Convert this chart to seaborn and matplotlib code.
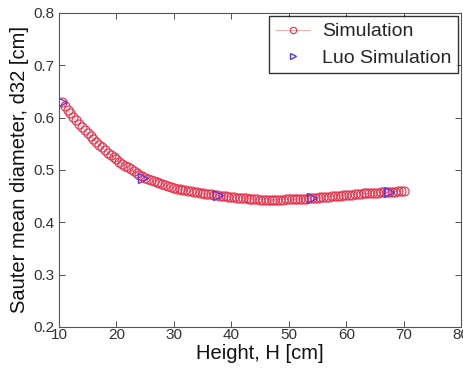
import numpy as np
import pandas as pd
import matplotlib
matplotlib.use("Agg")
import matplotlib.pyplot as plt
import seaborn as sns

# Simulated Sauter mean diameter along the column height
height_sim = [10.5, 11.0, 11.5, 12.0, 12.5, 13.0, 13.5, 14.0, 14.5, 15.0,
              15.5, 16.0, 16.5, 17.0, 17.5, 18.0, 18.5, 19.0, 19.5, 20.0,
              20.5, 21.0, 21.5, 22.0, 22.5, 23.0, 23.5, 24.0, 24.5, 25.0,
              25.5, 26.0, 26.5, 27.0, 27.5, 28.0, 28.5, 29.0, 29.5, 30.0,
              30.5, 31.0, 31.5, 32.0, 32.5, 33.0, 33.5, 34.0, 34.5, 35.0,
              35.5, 36.0, 36.5, 37.0, 37.5, 38.0, 38.5, 39.0, 39.5, 40.0,
              40.5, 41.0, 41.5, 42.0, 42.5, 43.0, 43.5, 44.0, 44.5, 45.0,
              45.5, 46.0, 46.5, 47.0, 47.5, 48.0, 48.5, 49.0, 49.5, 50.0,
              50.5, 51.0, 51.5, 52.0, 52.5, 53.0, 53.5, 54.0, 54.5, 55.0,
              55.5, 56.0, 56.5, 57.0, 57.5, 58.0, 58.5, 59.0, 59.5, 60.0,
              60.5, 61.0, 61.5, 62.0, 62.5, 63.0, 63.5, 64.0, 64.5, 65.0,
              65.5, 66.0, 66.5, 67.0, 67.5, 68.0, 68.5, 69.0, 69.5, 70.0]
d32_sim = [0.630, 0.622, 0.615, 0.608, 0.601, 0.595, 0.588, 0.582, 0.576, 0.570,
           0.564, 0.559, 0.553, 0.548, 0.543, 0.538, 0.533, 0.529, 0.524, 0.520,
           0.516, 0.512, 0.508, 0.505, 0.501, 0.498, 0.494, 0.491, 0.488, 0.485,
           0.483, 0.481, 0.479, 0.477, 0.475, 0.473, 0.471, 0.469, 0.467, 0.466,
           0.464, 0.463, 0.462, 0.461, 0.460, 0.459, 0.458, 0.457, 0.456, 0.455,
           0.4545, 0.454, 0.4535, 0.453, 0.452, 0.451, 0.4505, 0.450, 0.449, 0.448,
           0.4475, 0.447, 0.4465, 0.446, 0.4455, 0.445, 0.4445, 0.444, 0.4435, 0.443,
           0.443, 0.443, 0.443, 0.443, 0.443, 0.443, 0.443, 0.443, 0.4435, 0.444,
           0.444, 0.444, 0.4445, 0.445, 0.445, 0.445, 0.4455, 0.446, 0.4465, 0.447,
           0.4475, 0.448, 0.4485, 0.449, 0.4495, 0.450, 0.4505, 0.451, 0.4515, 0.452,
           0.4525, 0.453, 0.4535, 0.454, 0.4545, 0.455, 0.455, 0.455, 0.4555, 0.456,
           0.4565, 0.457, 0.457, 0.457, 0.4575, 0.458, 0.4585, 0.459, 0.459, 0.459]

# Reference results (Luo simulation)
height_luo = [10.5, 24.6, 37.7, 54.1, 67.5]
d32_luo = [0.630, 0.485, 0.452, 0.446, 0.458]

x_ticks = [10, 20, 30, 40, 50, 60, 70, 80]
y_ticks = [0.2, 0.3, 0.4, 0.5, 0.6, 0.7, 0.8]

sim = pd.DataFrame({"H": height_sim, "d32": d32_sim})
luo = pd.DataFrame({"H": height_luo, "d32": d32_luo})

sns.set_theme(style="white")
plt.rcParams["font.family"] = ["Liberation Sans", "DejaVu Sans"]

fig = plt.figure(figsize=(4.64, 3.71), dpi=100)
ax = fig.add_axes([0.127, 0.119, 0.867, 0.846])

sns.lineplot(data=sim, x="H", y="d32", ax=ax, color="#f4a0a0", linewidth=0.6,
             marker="o", markersize=6.5, markerfacecolor="none",
             markeredgecolor="#e8304a", markeredgewidth=0.8,
             label="Simulation", sort=False)
sns.lineplot(data=luo, x="H", y="d32", ax=ax, linestyle="", color="#3030d0",
             marker=">", markersize=6.5, markerfacecolor="none",
             markeredgecolor="#5a3ae0", markeredgewidth=1.0,
             label="Luo Simulation", sort=False)

ax.set_xlim(10, 80)
ax.set_ylim(0.2, 0.8)
ax.set_xticks(x_ticks)
ax.set_yticks(y_ticks)
ax.set_xticklabels([str(t) for t in x_ticks])
ax.set_yticklabels([f"{t:.1f}" for t in y_ticks])

ax.tick_params(direction="in", length=4, width=0.6, colors="#333333",
               labelsize=11, top=True, right=True, bottom=True, left=True,
               pad=3)
ax.tick_params(axis="x", pad=1)
for s in ax.spines.values():
    s.set_color("#555555")
    s.set_linewidth(0.8)

ax.set_xlabel("Height, H [cm]", fontsize=14.5, color="#111111", labelpad=1)
ax.set_ylabel("Sauter mean diameter, d32 [cm]", fontsize=14.5, color="#111111",
              labelpad=3)

leg = ax.legend(loc="upper right", fontsize=14, frameon=True, fancybox=False,
                borderaxespad=0.15, handlelength=1.8, handletextpad=0.6,
                borderpad=0.35, labelspacing=0.45, markerscale=0.7)
leg.get_frame().set_edgecolor("black")
leg.get_frame().set_linewidth(1.0)

fig.savefig("out.png", dpi=100)
